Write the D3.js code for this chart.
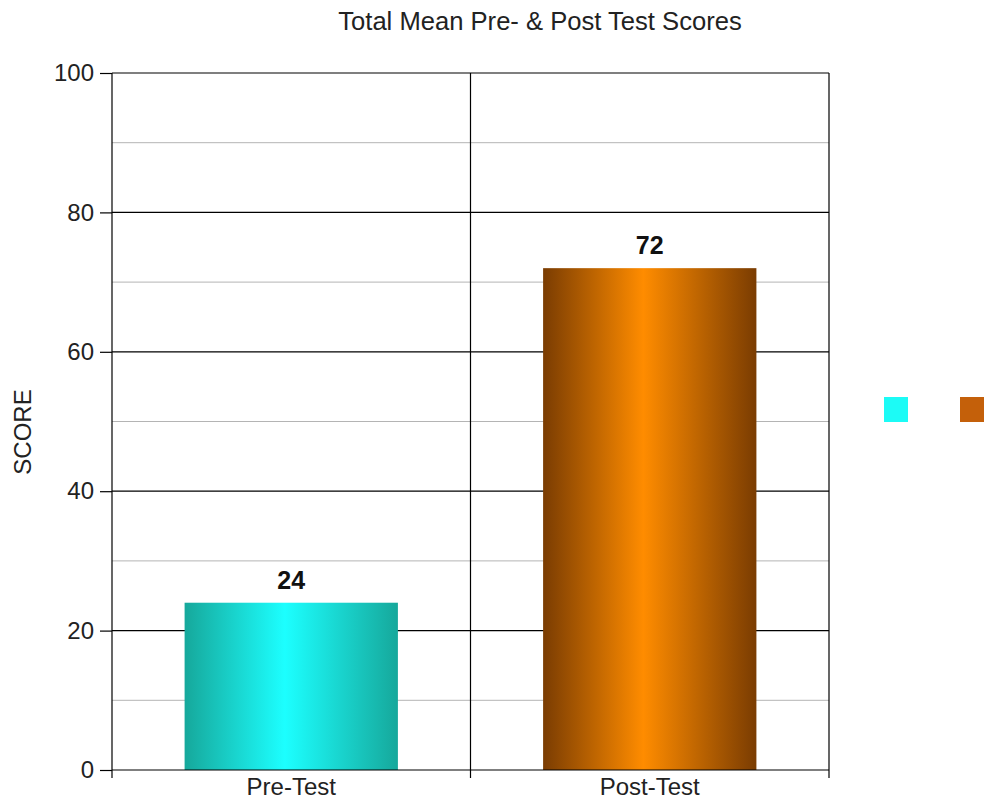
<!DOCTYPE html>
<html>
<head>
<meta charset="utf-8">
<script src="https://cdn.jsdelivr.net/npm/d3@7.9.0/dist/d3.min.js"></script>
<style>
  body { margin: 0; background: #fff; }
  svg { display: block; font-family: "Liberation Sans", Arial, sans-serif; }
</style>
</head>
<body>
<svg width="986" height="805"></svg>
<script>
const categories = ['Pre-Test', 'Post-Test'];
const scores = [24, 72];
const majorTicks = [0, 20, 40, 60, 80, 100];
const minorTicks = [10, 30, 50, 70, 90];
const barColors = [
  { edge: '#16a89b', mid: '#1cffff', legend: '#1cfbf6' },
  { edge: '#7a3c02', mid: '#ff8c00', legend: '#c4600a' }
];

const svg = d3.select('svg');
const plotL = 112, plotR = 829, plotT = 73, plotB = 770;
const fontSize = 24;

const x = d3.scaleBand().domain(categories).range([plotL, plotR]).paddingInner(0).paddingOuter(0);
const y = d3.scaleLinear().domain([0, 100]).range([plotB, plotT]);

const defs = svg.append('defs');
barColors.forEach((c, i) => {
  const g = defs.append('linearGradient').attr('id', 'grad' + i)
    .attr('x1', '0%').attr('x2', '100%').attr('y1', '0%').attr('y2', '0%');
  g.append('stop').attr('offset', '0%').attr('stop-color', c.edge);
  g.append('stop').attr('offset', '47%').attr('stop-color', c.mid);
  g.append('stop').attr('offset', '100%').attr('stop-color', c.edge);
});

// minor gridlines
svg.append('g').selectAll('line').data(minorTicks).join('line')
  .attr('x1', plotL).attr('x2', plotR)
  .attr('y1', d => y(d)).attr('y2', d => y(d))
  .attr('stroke', '#b4b4b4').attr('stroke-width', 1);

// major gridlines
svg.append('g').selectAll('line').data(majorTicks.filter(d => d > 0)).join('line')
  .attr('x1', plotL).attr('x2', plotR)
  .attr('y1', d => y(d)).attr('y2', d => y(d))
  .attr('stroke', '#000').attr('stroke-width', 1.2);

// category separators and right border
const seps = [plotL + x.step(), plotR];
svg.append('g').selectAll('line').data(seps).join('line')
  .attr('x1', d => d).attr('x2', d => d)
  .attr('y1', plotT).attr('y2', plotB + 8)
  .attr('stroke', '#000').attr('stroke-width', 1.2);

// bars
const bw = x.bandwidth() * 0.595;
svg.append('g').selectAll('rect').data(scores).join('rect')
  .attr('x', (d, i) => x(categories[i]) + (x.bandwidth() - bw) / 2)
  .attr('width', bw)
  .attr('y', d => y(d))
  .attr('height', d => plotB - y(d))
  .attr('fill', (d, i) => `url(#grad${i})`);

// value labels
svg.append('g').selectAll('text').data(scores).join('text')
  .attr('x', (d, i) => x(categories[i]) + x.bandwidth() / 2)
  .attr('y', d => y(d) - 14)
  .attr('text-anchor', 'middle')
  .attr('font-size', 25).attr('font-weight', 'bold').attr('fill', '#111')
  .text(d => d);

// y axis
const yAxis = svg.append('g').attr('transform', `translate(${plotL},0)`)
  .call(d3.axisLeft(y).tickValues(majorTicks).tickSize(12).tickPadding(6));
yAxis.select('.domain').attr('stroke', '#000').attr('stroke-width', 1.2)
  .attr('d', `M0,${plotT}V${plotB + 8}`);
yAxis.selectAll('.tick line').attr('stroke-width', 1.2);
yAxis.selectAll('.tick text').attr('font-size', fontSize).attr('fill', '#222')
  .attr('font-family', '"Liberation Sans", Arial, sans-serif');

// x axis
const xAxis = svg.append('g').attr('transform', `translate(0,${plotB})`)
  .call(d3.axisBottom(x).tickSize(0).tickPadding(8));
xAxis.select('.domain').attr('stroke', '#000').attr('stroke-width', 1.2)
  .attr('d', `M${plotL},0H${plotR}`);
xAxis.selectAll('.tick text').attr('font-size', fontSize).attr('fill', '#222')
  .attr('font-family', '"Liberation Sans", Arial, sans-serif');

// title
svg.append('text').attr('x', 540).attr('y', 30).attr('text-anchor', 'middle')
  .attr('font-size', 25.6).attr('fill', '#222').text('Total Mean Pre- & Post Test Scores');

// y label
svg.append('text').attr('transform', 'translate(31,432) rotate(-90)')
  .attr('text-anchor', 'middle').attr('font-size', fontSize).attr('fill', '#222').text('SCORE');

// legend
svg.append('g').selectAll('rect').data(barColors).join('rect')
  .attr('x', (d, i) => 884 + i * 76).attr('y', 397)
  .attr('width', 24).attr('height', 25)
  .attr('fill', d => d.legend);
</script>
</body>
</html>
